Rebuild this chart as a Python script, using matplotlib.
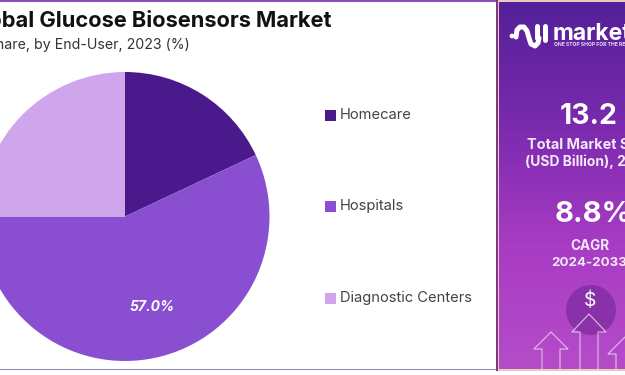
import numpy as np
import matplotlib
matplotlib.use('Agg')
import matplotlib.pyplot as plt
from matplotlib.colors import LinearSegmentedColormap
from matplotlib.patches import Circle, Rectangle

# Data
categories = ['Homecare', 'Hospitals', 'Diagnostic Centers']
shares = [18.0, 57.0, 25.0]
colors = ['#4a1a8c', '#8a4fd0', '#cfa6ec']
label_shown = '57.0%'
title = 'Global Glucose Biosensors Market'
subtitle = 'Market Share, by End-User, 2023 (%)'
market_size = '13.2'
market_label = ['Total Market Size', '(USD Billion), 2023']
cagr = '8.8%'
cagr_label = ['CAGR', '2024-2033']

plt.rcParams['font.family'] = ['Inter', 'DejaVu Sans']

W, H = 625, 375
fig = plt.figure(figsize=(6.25, 3.75), dpi=100)
ax = fig.add_axes([0, 0, 1, 1])


def py(y):
    # picture rows count from the top
    return H - y


# frame lines of the chart side
ax.add_patch(Rectangle((0, py(1.5)), 497, 1.5, color='#8a4fb8', lw=0, zorder=1))
ax.add_patch(Rectangle((0, py(370)), 497, 1.2, color='#a080b8', lw=0, zorder=1))

ax.text(331, py(21), title, ha='right', va='center', fontsize=15.7,
        fontweight='bold', color='#111111')
ax.text(190, py(45), subtitle, ha='right', va='center', fontsize=10.2, color='#333333')

wedges, _ = ax.pie(shares, colors=colors, startangle=90, counterclock=False,
                   center=(125, py(216.5)), radius=144.5, frame=True)
ax.set_aspect('auto')
ax.text(152, py(307), label_shown, ha='center', va='center', fontsize=10,
        fontweight='bold', style='italic', color='white')

# legend
legend_y = [115, 206, 298]
for name, col, y in zip(categories, colors, legend_y):
    ax.add_patch(Rectangle((325, py(y) - 5.5), 11, 11, color=col, lw=0))
    ax.text(340, py(y), name, ha='left', va='center', fontsize=10.6, color='#444444')

# side panel
cmap = LinearSegmentedColormap.from_list('panel', ['#54209a', '#7a2aae', '#a83cc4', '#b54cc8'])
grad = np.linspace(0, 1, 256).reshape(-1, 1)
ax.add_patch(Rectangle((495.5, py(371)), 130, 371, color='#e9cdb8', lw=0, zorder=2))
ax.add_patch(Rectangle((496, py(371)), 1.5, 371, color='#7a3a80', lw=0, zorder=3))
ax.imshow(grad, cmap=cmap, extent=(499, W, py(369), py(2)), aspect='auto', zorder=3)

ax.add_patch(Circle((591, py(310)), 25, color='#7a2a9c', alpha=0.7, lw=0, zorder=4))

# logo
ax.add_patch(Circle((512, py(36)), 2.4, color='white', lw=0, zorder=5))
lx = [516, 517, 520, 524, 527, 529, 531, 535, 538, 539]
ly = [37, 30, 27, 27, 31, 38, 44, 46, 43, 38]
ax.plot(lx, [py(v) for v in ly], color='white', lw=3.6, zorder=5, solid_capstyle='round')
ax.plot([537, 537], [py(26), py(38)], color='white', lw=3.6, zorder=5, solid_capstyle='round')
ax.plot([545, 545], [py(26), py(40)], color='white', lw=3.6, zorder=5, solid_capstyle='round')
ax.text(553, py(34), 'market.us', ha='left', va='center', fontsize=16.5,
        fontweight='bold', color='white', zorder=5)
ax.text(554, py(44.5), 'ONE STOP SHOP FOR THE REPORTS', ha='left', va='center', fontsize=3.6,
        fontweight='bold', color='#e8d8f4', zorder=5)

# panel figures
panel_x = 589
ax.text(panel_x, py(116), market_size, ha='center', va='center', fontsize=20.5,
        fontweight='bold', color='white', zorder=5)
ax.text(panel_x, py(145), market_label[0], ha='center', va='center', fontsize=10.4,
        fontweight='bold', color='#f4e8f8', zorder=5)
ax.text(panel_x, py(162), market_label[1], ha='center', va='center', fontsize=10,
        fontweight='bold', color='#f4e8f8', zorder=5)
ax.text(593, py(214), cagr, ha='center', va='center', fontsize=21,
        fontweight='bold', color='white', zorder=5)
ax.text(panel_x + 1, py(246), cagr_label[0], ha='center', va='center', fontsize=9.8,
        fontweight='bold', color='#f4e8f8', zorder=5)
ax.text(panel_x, py(263), cagr_label[1], ha='center', va='center', fontsize=9.6,
        fontweight='bold', color='#f4e8f8', zorder=5)
ax.text(590, py(301), r'\$', ha='center', va='center', fontsize=14, color='white', zorder=6)


# rising arrows
def arrow(cx, top, half_head, half_stem, neck):
    xs = [cx - half_stem, cx - half_stem, cx - half_head, cx, cx + half_head, cx + half_stem, cx + half_stem]
    ys = [369, neck, neck, top, neck, neck, 369]
    ax.plot(xs, [py(v) for v in ys], color='#ecd4f0', lw=0.8, alpha=0.85, zorder=6)


arrow(551, 332, 17, 9, 349)
arrow(589, 314, 17, 9, 332)
arrow(625, 337, 17, 9, 354)

ax.set_xlim(0, W)
ax.set_ylim(0, H)
ax.axis('off')

fig.savefig('out.png', dpi=100)
